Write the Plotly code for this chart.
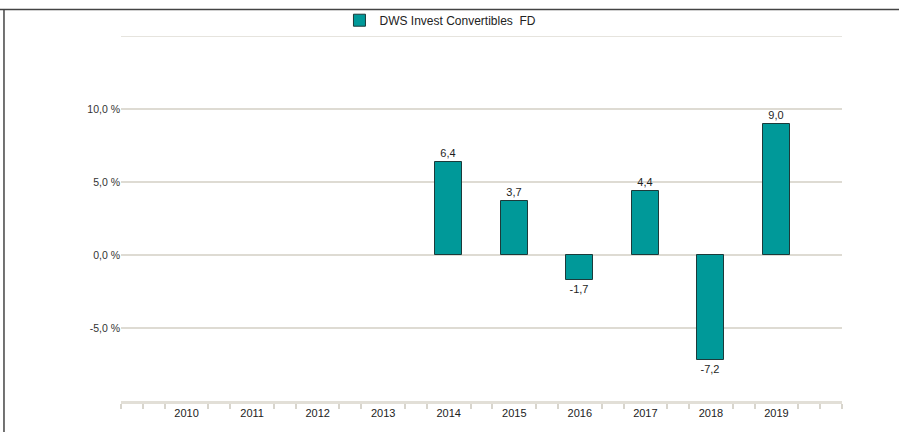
import plotly.graph_objects as go

# ---- data ----
years = [2014, 2015, 2016, 2017, 2018, 2019]
returns = [6.4, 3.7, -1.7, 4.4, -7.2, 9.0]
series_name = "DWS Invest Convertibles  FD"
x_tick_years = [2010, 2011, 2012, 2013, 2014, 2015, 2016, 2017, 2018, 2019]
x_tick_labels = [str(y) for y in x_tick_years]
y_tick_vals = [-5, 0, 5, 10, 15]
y_tick_labels = ["-5,0 %", "0,0 %", "5,0 %", "10,0 %", ""]
y_min, y_max = -10, 15

x_start, x_end = 2009, 2020
minor_vals = []
for y in range(x_start, x_end):
    minor_vals += [y, y + 1 / 3, y + 2 / 3]
minor_vals = [v for v in minor_vals if v not in x_tick_years] + [x_end]

FONT = "Liberation Sans, Arial, sans-serif"
TEAL = "#009999"
GRID = "#dedbd3"

fig = go.Figure()
fig.add_trace(go.Bar(
    x=years, y=returns, name=series_name,
    width=0.41,
    marker=dict(color=TEAL, line=dict(color="#1c3a3a", width=1)),
    texttemplate="%{y:.1f}", textposition="outside",
    textfont=dict(family=FONT, size=11, color="#1e1e1e"),
    cliponaxis=False,
    showlegend=True,
))

fig.update_layout(
    width=899, height=432,
    margin=dict(l=121, r=57, t=36, b=31, autoexpand=False),
    paper_bgcolor="white", plot_bgcolor="white",
    separators=",.",
    font=dict(family=FONT, size=11, color="#333333"),
    showlegend=True,
    legend=dict(
        orientation="h", x=0.303, xanchor="left", y=1.083, yanchor="top",
        font=dict(family=FONT, size=12, color="#222222"),
        bgcolor="rgba(0,0,0,0)",
    ),
    xaxis=dict(
        range=[x_start, x_end],
        tickmode="array", tickvals=x_tick_years, ticktext=x_tick_labels,
        ticks="", showgrid=False, zeroline=False,
        showline=True, linecolor="#e2dfd7", linewidth=3,
        tickfont=dict(family=FONT, size=11, color="#222222"),
        minor=dict(tickmode="array", tickvals=minor_vals, ticks="outside",
                   ticklen=5, tickwidth=1.5, tickcolor="#d8d5cd", showgrid=False),
    ),
    yaxis=dict(
        range=[y_min, y_max],
        tickmode="array", tickvals=y_tick_vals, ticktext=y_tick_labels,
        showgrid=True, gridcolor=GRID, gridwidth=1.5,
        zeroline=False, showline=False, ticks="",
        tickfont=dict(family=FONT, size=10.5, color="#333333"),
    ),
    bargap=0,
    shapes=[
        dict(type="line", xref="paper", yref="y", x0=0, x1=1,
             y0=y_max, y1=y_max, line=dict(color=GRID, width=1.5), layer="below"),
        dict(type="line", xref="paper", yref="paper", x0=-0.17, x1=1.08,
             y0=1.0726, y1=1.0726, line=dict(color="#444444", width=1.5)),
        dict(type="line", xref="paper", yref="paper", x0=-0.1623, x1=-0.1623,
             y0=1.0726, y1=-0.1, line=dict(color="#444444", width=1.5)),
    ],
)

fig.write_html("out.html", config={"displayModeBar": False},
               post_script="document.body.style.margin='0px';document.body.style.overflow='hidden';")
